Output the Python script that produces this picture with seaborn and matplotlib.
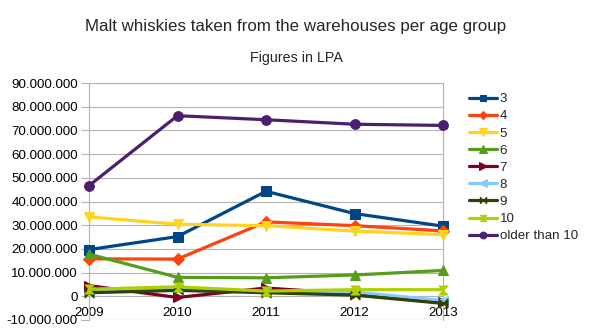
import numpy as np
import pandas as pd
import matplotlib
matplotlib.use("Agg")
import matplotlib.pyplot as plt
from matplotlib.path import Path
from matplotlib.ticker import FuncFormatter
import seaborn as sns

years = [2009, 2010, 2011, 2012, 2013]
age_groups = ["3", "4", "5", "6", "7", "8", "9", "10", "older than 10"]

v3 = [19.7e6, 25.2e6, 44.3e6, 34.9e6, 29.6e6]
v4 = [15.8e6, 15.7e6, 31.4e6, 29.8e6, 27.6e6]
v5 = [33.5e6, 30.4e6, 29.8e6, 27.5e6, 26.0e6]
v6 = [17.8e6, 8.0e6, 7.8e6, 9.0e6, 10.9e6]
v7 = [4.5e6, -0.5e6, 3.5e6, 1.0e6, -2.5e6]
v8 = [2.0e6, 3.0e6, 2.0e6, 1.8e6, -1.8e6]
v9 = [1.5e6, 2.5e6, 1.5e6, 0.5e6, -3.0e6]
v10 = [3.0e6, 4.0e6, 2.2e6, 2.8e6, 2.8e6]
v_older = [46.7e6, 76.2e6, 74.5e6, 72.6e6, 72.1e6]

series = [v3, v4, v5, v6, v7, v8, v9, v10, v_older]
colors = ["#004586", "#ff420e", "#ffd320", "#579d1c", "#7e0021",
          "#83caff", "#314004", "#aecf00", "#4b1f6f"]

bowtie = Path([(-1, -1), (1, 1), (1, -1), (-1, 1), (-1, -1)],
              [Path.MOVETO, Path.LINETO, Path.LINETO, Path.LINETO, Path.CLOSEPOLY])
sandglass = Path([(-1, -1), (1, -1), (-1, 1), (1, 1), (-1, -1)],
                 [Path.MOVETO, Path.LINETO, Path.LINETO, Path.LINETO, Path.CLOSEPOLY])
markers = ["s", "D", "v", "^", ">", "<", bowtie, sandglass, "o"]
msizes = [7, 6, 7.5, 7.5, 7.5, 7.5, 6.5, 6.5, 7]

df = pd.DataFrame({
    "year": np.tile(years, len(age_groups)),
    "group": np.repeat(age_groups, len(years)),
    "value": np.concatenate(series),
})

sns.set_theme(style="white")
plt.rcParams["font.family"] = ["Liberation Sans", "DejaVu Sans"]

fig = plt.figure(figsize=(5.92, 3.33), dpi=100)
ax = fig.add_axes([89 / 592, 1 - 320 / 333, (443 - 89) / 592, (320 - 83) / 333])

for grp, col, mk, ms in zip(age_groups, colors, markers, msizes):
    sub = df[df["group"] == grp]
    sns.lineplot(data=sub, x="year", y="value", ax=ax, color=col, marker=mk,
                 markersize=ms, markeredgecolor=col, linewidth=2.3,
                 label=grp, clip_on=False, zorder=3)

grid_col = "#b3b3b3"
ax.set_xlim(2009, 2013)
ax.set_ylim(-10e6, 90e6)
ax.set_yticks(np.arange(-10e6, 90e6 + 1, 10e6))
ax.set_xticks(years)
ax.yaxis.set_major_formatter(FuncFormatter(lambda v, p: f"{int(round(v)):,}".replace(",", ".")))
ax.grid(axis="y", color=grid_col, linewidth=0.8)
ax.set_xlabel("")
ax.set_ylabel("")

for s in ["left", "right", "top", "bottom"]:
    ax.spines[s].set_color(grid_col)
    ax.spines[s].set_linewidth(0.8)
ax.spines["bottom"].set_position(("data", 0))
ax.axhline(-10e6, color=grid_col, linewidth=0.8)

ax.tick_params(axis="y", length=6, color=grid_col, width=0.8, labelsize=9.6,
               labelcolor="#000000", pad=2, left=True)
ax.tick_params(axis="x", length=0, labelsize=9.6, labelcolor="#000000", pad=8)

leg = ax.legend(loc="upper left", bbox_to_anchor=(469 / 592, 1 - 93 / 333),
                bbox_transform=fig.transFigure, frameon=False, fontsize=9.6,
                handlelength=2.1, handletextpad=0.2, labelspacing=0.36,
                borderaxespad=0, borderpad=0, markerscale=0.7)

fig.text(0.5, 1 - 27 / 333, "Malt whiskies taken from the warehouses per age group",
         ha="center", va="center", fontsize=12.2)
fig.text(0.5, 1 - 58 / 333, "Figures in LPA", ha="center", va="center", fontsize=10.3)

fig.savefig("out.png", dpi=100)
